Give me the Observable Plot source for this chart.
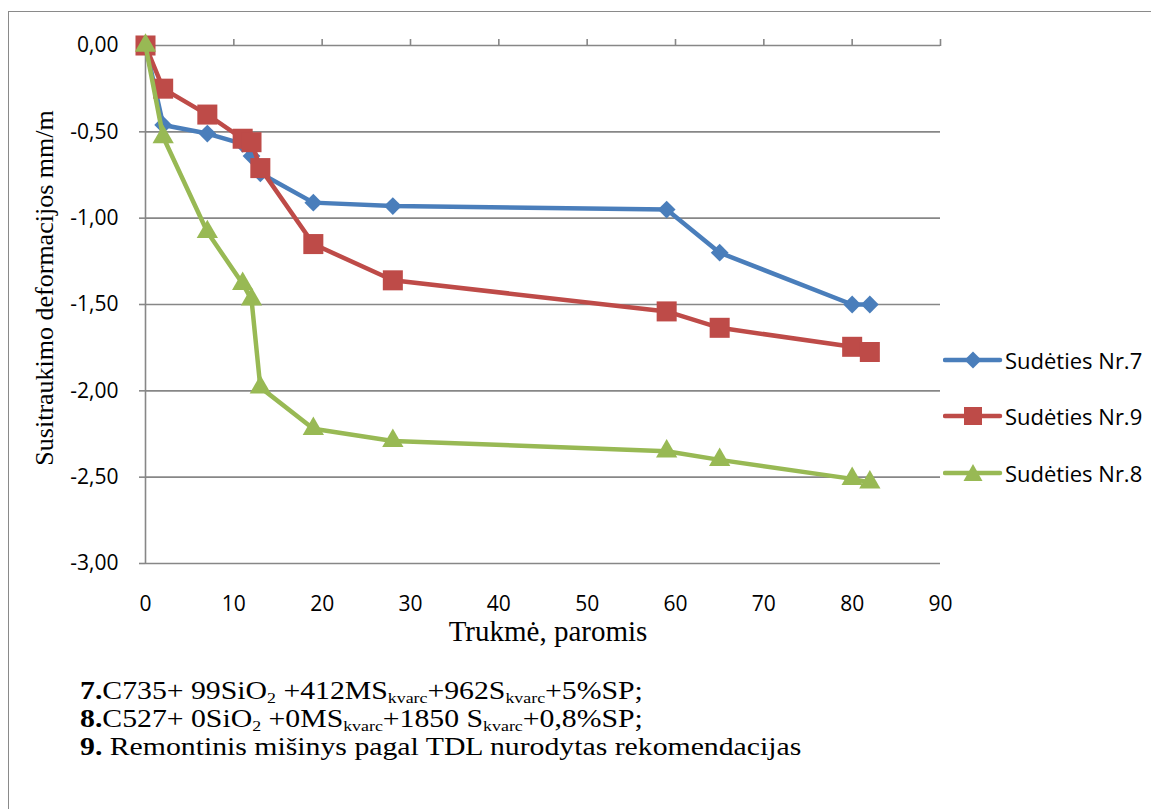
<!DOCTYPE html>
<html><head><meta charset="utf-8">
<script src="https://cdn.jsdelivr.net/npm/d3@7"></script>
<script src="https://cdn.jsdelivr.net/npm/@observablehq/plot@0.6"></script>
<style>
body{margin:0;background:#fff;width:1151px;height:809px;position:relative;overflow:hidden;font-family:"Open Sans",sans-serif;}
#frame{position:absolute;left:8px;top:11px;width:1200px;height:900px;border-left:1.5px solid #8a8a8a;border-top:1.5px solid #8a8a8a;}
#chart{position:absolute;left:0;top:0;}
#ylab{position:absolute;left:45px;top:288px;transform:translate(-50%,-50%) rotate(-90deg);white-space:nowrap;font-family:"Liberation Serif",serif;font-size:26px;}
#xlab{position:absolute;left:548px;top:615px;transform:translateX(-50%);white-space:nowrap;font-family:"Liberation Serif",serif;font-size:29px;}
#legend{position:absolute;left:943px;top:0;}
.li{position:absolute;left:0;display:flex;align-items:center;white-space:nowrap;font-size:22px;}
.li svg{margin-right:2px;}
#caption{position:absolute;left:80px;top:677px;font-family:"Liberation Serif",serif;font-size:25px;line-height:28px;white-space:nowrap;transform:scaleX(1.19);transform-origin:0 0;}
#caption sub{font-size:60%;vertical-align:-0.25em;line-height:0;}
</style></head>
<body>
<div id="frame"></div>
<div id="chart"></div>
<div id="ylab">Susitraukimo deformacijos mm/m</div>
<div id="xlab">Trukmė, paromis</div>
<div id="legend"></div>
<div id="caption">
<div><b>7.</b>C735+ 99SiO<sub>2</sub> +412MS<sub>kvarc</sub>+962S<sub>kvarc</sub>+5%SP;</div>
<div><b>8.</b>C527+ 0SiO<sub>2</sub> +0MS<sub>kvarc</sub>+1850 S<sub>kvarc</sub>+0,8%SP;</div>
<div><b>9.</b> Remontinis mišinys pagal TDL nurodytas rekomendacijas</div>
</div>
<script>
const days = [0, 2, 7, 11, 12, 13, 19, 28, 59, 65, 80, 82];
const nr7 = [0, -0.46, -0.51, -0.57, -0.64, -0.74, -0.91, -0.93, -0.95, -1.20, -1.50, -1.50];
const nr9 = [0, -0.25, -0.40, -0.54, -0.56, -0.71, -1.15, -1.36, -1.54, -1.635, -1.745, -1.775];
const nr8 = [0, -0.53, -1.08, -1.38, -1.47, -1.98, -2.22, -2.29, -2.35, -2.40, -2.51, -2.53];
const seriesNames = ["Sudėties Nr.7", "Sudėties Nr.9", "Sudėties Nr.8"];
const seriesColors = ["#4A7EBB", "#BE4B48", "#98B954"];
const seriesSymbols = ["diamond2", "square", "triangle"];
const seriesR = [8, 11.3, 7.9];
const xTicks = [0, 10, 20, 30, 40, 50, 60, 70, 80, 90];
const yTicks = [0, -0.5, -1, -1.5, -2, -2.5, -3];

const fmt = d3.formatLocale({decimal: ",", thousands: " ", grouping: [3], currency: ["", ""], minus: "-"}).format(".2f");
const series = [nr7, nr9, nr8].map(vals => days.map((d, i) => ({x: d, y: vals[i]})));
const gridColor = "#878787";

const marks = [
  Plot.ruleY(yTicks, {stroke: gridColor, strokeWidth: 1.6}),
  Plot.ruleX([0], {stroke: gridColor, strokeWidth: 1.6}),
  Plot.axisY({ticks: yTicks, tickSize: 6, tickPadding: 21, tickFormat: fmt, stroke: gridColor, strokeWidth: 1.6, fill: "#000", fontSize: 21, label: null}),
  Plot.axisX({anchor: "top", ticks: xTicks, tickSize: 7, tickFormat: () => "", stroke: gridColor, strokeWidth: 1.6, label: null}),
  Plot.axisX({anchor: "bottom", ticks: xTicks, tickSize: 0, tickPadding: 33, fill: "#000", fontSize: 21, label: null})
];
series.forEach((s, i) => {
  marks.push(Plot.line(s, {x: "x", y: "y", stroke: seriesColors[i], strokeWidth: 4.5, strokeLinejoin: "round"}));
  marks.push(Plot.dot(s, {x: "x", y: "y", symbol: seriesSymbols[i], r: seriesR[i], fill: seriesColors[i], stroke: "none"}));
});

const chart = Plot.plot({
  width: 1151, height: 650,
  marginLeft: 145, marginRight: 211, marginTop: 45, marginBottom: 87,
  x: {domain: [0, 90]},
  y: {domain: [-3, 0]},
  style: {fontFamily: "Open Sans, sans-serif", background: "transparent", overflow: "visible", color: "#000"},
  marks
});
document.getElementById("chart").appendChild(chart);

// legend
const legend = document.getElementById("legend");
const legendY = [357, 413, 470];
const symPaths = {
  diamond2: "M30,3.5 L38.5,12 L30,20.5 L21.5,12 Z",
  square: "M21,3 H39 V21 H21 Z",
  triangle: "M30,3 L39.5,20 L20.5,20 Z"
};
seriesNames.forEach((name, i) => {
  const item = document.createElement("div");
  item.className = "li";
  item.style.top = (legendY[i] - 12) + "px";
  item.innerHTML = `<svg width="60" height="24"><line x1="2" y1="12" x2="57" y2="12" stroke="${seriesColors[i]}" stroke-width="4.5" stroke-linecap="round"/><path d="${symPaths[seriesSymbols[i]]}" fill="${seriesColors[i]}"/></svg><span>${name}</span>`;
  legend.appendChild(item);
});
</script>
</body></html>
